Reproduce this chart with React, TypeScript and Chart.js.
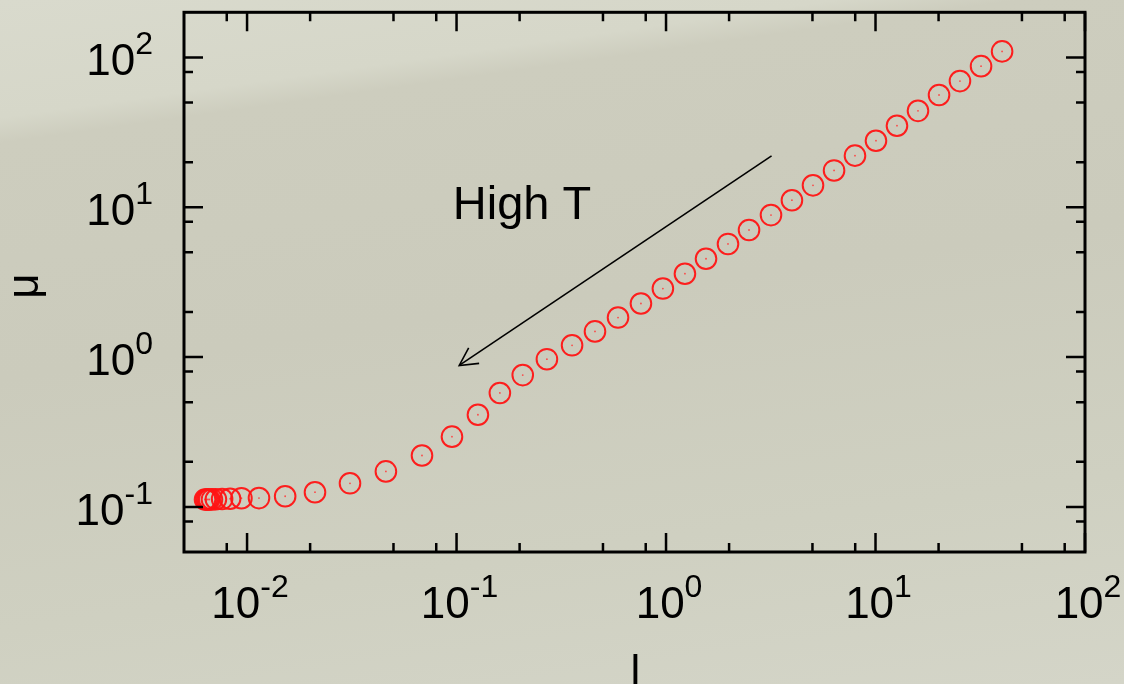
import React, { useEffect, useRef } from "react";
import { Chart, registerables } from "chart.js";

Chart.register(...registerables);

// Data (l on x, μ on y)
const lValues = [
  0.0063, 0.0064, 0.0065, 0.0066, 0.0068, 0.0071, 0.0076, 0.0083,
  0.0094, 0.0114, 0.0152, 0.0211, 0.031, 0.046, 0.0684, 0.0951,
  0.1265, 0.161, 0.207, 0.27, 0.356, 0.458, 0.59, 0.759, 0.966,
  1.231, 1.552, 1.976, 2.49, 3.17, 3.99, 5.03, 6.34, 7.98,
  10.05, 12.66, 15.95, 20.1, 25.3, 31.9, 40.2,
];
const muValues = [
  0.112, 0.112, 0.112, 0.112, 0.1122, 0.1125, 0.1128, 0.1133,
  0.1143, 0.1145, 0.1178, 0.1253, 0.1437, 0.1725, 0.2203, 0.2944,
  0.412, 0.576, 0.758, 0.968, 1.198, 1.483, 1.835, 2.278, 2.866,
  3.6, 4.53, 5.69, 7.05, 8.86, 11.14, 14.0, 17.6, 22.1,
  27.8, 35.0, 44.0, 56.1, 69.5, 87.4, 109.7,
];

const xMajorExponents = [-2, -1, 0, 1, 2];
const yMajorExponents = [-1, 0, 1, 2];
const xMinorTicks = [0.008, 0.02, 0.05, 0.08, 0.2, 0.5, 0.8, 2, 5, 8, 20, 50, 80];
const yMinorTicks = [0.08, 0.2, 0.5, 0.8, 2, 5, 8, 20, 50, 80];

const xTitle = "l";
const yTitle = "μ";
const annotationText = "High T";
const annotationTextAt = [0.096, 8.3];
const arrowFrom = [3.19, 22.0];
const arrowTo = [0.103, 0.879];

const FONT = '"Liberation Sans", Arial, Helvetica, sans-serif';

function drawPower(ctx: CanvasRenderingContext2D, exp: number, x: number, baseY: number, supY: number, align: "center" | "right") {
  ctx.textAlign = "left";
  ctx.textBaseline = "alphabetic";
  ctx.font = `44px ${FONT}`;
  const base = "10";
  const wBase = ctx.measureText(base).width;
  ctx.font = `32px ${FONT}`;
  const sup = String(exp);
  const wSup = ctx.measureText(sup).width;
  const total = wBase + wSup;
  const start = align === "center" ? x - total / 2 : x - total;
  ctx.font = `44px ${FONT}`;
  ctx.fillText(base, start, baseY);
  ctx.font = `32px ${FONT}`;
  ctx.fillText(sup, start + wBase, supY);
}

const axesPlugin = {
  id: "logAxesFrame",
  afterDraw(chart: any) {
    const { ctx, chartArea: a, scales } = chart;
    const x = scales.x;
    const y = scales.y;
    ctx.save();
    ctx.strokeStyle = "#000";
    ctx.lineCap = "butt";
    ctx.lineWidth = 2.5;
    const majorLen = 19;
    const minorLen = 9;
    const tickX = (v: number, len: number) => {
      const px = x.getPixelForValue(v);
      ctx.beginPath();
      ctx.moveTo(px, a.bottom);
      ctx.lineTo(px, a.bottom - len);
      ctx.moveTo(px, a.top);
      ctx.lineTo(px, a.top + len);
      ctx.stroke();
    };
    const tickY = (v: number, len: number) => {
      const py = y.getPixelForValue(v);
      ctx.beginPath();
      ctx.moveTo(a.left, py);
      ctx.lineTo(a.left + len, py);
      ctx.moveTo(a.right, py);
      ctx.lineTo(a.right - len, py);
      ctx.stroke();
    };
    xMajorExponents.forEach((e) => tickX(Math.pow(10, e), majorLen));
    xMinorTicks.forEach((v) => tickX(v, minorLen));
    yMajorExponents.forEach((e) => tickY(Math.pow(10, e), majorLen));
    yMinorTicks.forEach((v) => tickY(v, minorLen));

    ctx.lineWidth = 3;
    ctx.strokeRect(a.left, a.top, a.right - a.left, a.bottom - a.top);

    ctx.fillStyle = "#000";
    xMajorExponents.forEach((e) => {
      const px = x.getPixelForValue(Math.pow(10, e));
      drawPower(ctx, e, px + 3, a.bottom + 66, a.bottom + 45, "center");
    });
    yMajorExponents.forEach((e) => {
      const py = y.getPixelForValue(Math.pow(10, e));
      drawPower(ctx, e, a.left - 31, py + 18, py - 3, "right");
    });

    // axis titles
    ctx.font = `44px ${FONT}`;
    ctx.textAlign = "center";
    ctx.textBaseline = "alphabetic";
    ctx.fillText(xTitle, (a.left + a.right) / 2 + 1, 686);
    ctx.save();
    ctx.translate(38, (a.top + a.bottom) / 2 + 4);
    ctx.rotate(-Math.PI / 2);
    ctx.fillText(yTitle, 0, 0);
    ctx.restore();

    // annotation text
    ctx.font = `47px ${FONT}`;
    ctx.textAlign = "left";
    ctx.fillText(annotationText, x.getPixelForValue(annotationTextAt[0]), y.getPixelForValue(annotationTextAt[1]));

    // arrow
    const x0 = x.getPixelForValue(arrowFrom[0]);
    const y0 = y.getPixelForValue(arrowFrom[1]);
    const x1 = x.getPixelForValue(arrowTo[0]);
    const y1 = y.getPixelForValue(arrowTo[1]);
    ctx.lineWidth = 1.6;
    ctx.beginPath();
    ctx.moveTo(x0, y0);
    ctx.lineTo(x1, y1);
    ctx.stroke();
    const ang = Math.atan2(y0 - y1, x0 - x1);
    const head = 20;
    const spread = (28 * Math.PI) / 180;
    ctx.beginPath();
    ctx.moveTo(x1 + head * Math.cos(ang - spread), y1 + head * Math.sin(ang - spread));
    ctx.lineTo(x1, y1);
    ctx.lineTo(x1 + head * Math.cos(ang + spread), y1 + head * Math.sin(ang + spread));
    ctx.stroke();
    ctx.restore();
  },
};

export default function App() {
  const canvasRef = useRef<HTMLCanvasElement | null>(null);

  useEffect(() => {
    if (!canvasRef.current) return;
    const points = lValues.map((l, i) => ({ x: l, y: muValues[i] }));
    const chart = new Chart(canvasRef.current, {
      type: "scatter",
      data: {
        datasets: [
          {
            label: "μ",
            data: points,
            pointStyle: "circle",
            pointRadius: 10.3,
            pointBorderWidth: 2,
            borderColor: "rgba(255,20,20,0.95)",
            backgroundColor: "rgba(0,0,0,0)",
            pointBackgroundColor: "rgba(0,0,0,0)",
            pointBorderColor: "rgba(255,20,20,0.95)",
            showLine: false,
          },
          {
            label: "centers",
            data: points,
            pointStyle: "circle",
            pointRadius: 0.9,
            pointBorderWidth: 0,
            pointBackgroundColor: "rgba(255,60,60,0.9)",
            showLine: false,
          },
        ],
      },
      options: {
        animation: false,
        responsive: false,
        maintainAspectRatio: false,
        layout: { padding: { left: 184, top: 9, right: 39, bottom: 132 } },
        plugins: { legend: { display: false }, tooltip: { enabled: false } },
        scales: {
          x: { type: "logarithmic", min: 0.005, max: 100, display: false },
          y: { type: "logarithmic", min: 0.05, max: 200, display: false },
        },
      },
      plugins: [axesPlugin],
    });
    return () => chart.destroy();
  }, []);

  return (
    <div
      style={{
        position: "fixed",
        left: 0,
        top: 0,
        width: 1124,
        height: 684,
        overflow: "hidden",
        background:
          "linear-gradient(172deg, #d9dacd 0%, #d6d7c9 14%, #cdcdbe 17%, #cbcbbc 45%, #cfd0c1 75%, #d4d5c8 100%)",
      }}
    >
      <canvas ref={canvasRef} width={1124} height={684} style={{ display: "block" }} />
    </div>
  );
}
